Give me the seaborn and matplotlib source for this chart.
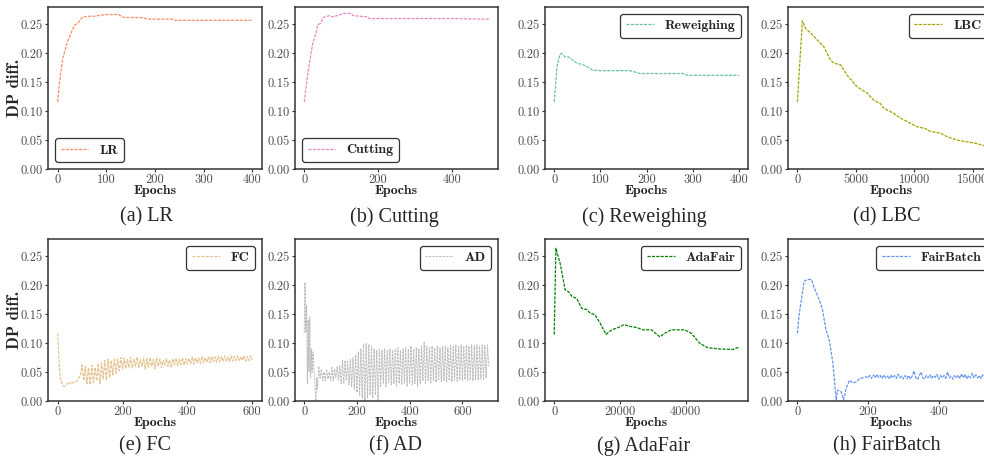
import numpy as np
import pandas as pd
import seaborn as sns
import matplotlib.pyplot as plt
from matplotlib.font_manager import FontProperties

sns.set_style("ticks")
plt.rcParams["font.family"] = ["cmr10", "DejaVu Serif"]
plt.rcParams["axes.unicode_minus"] = False

## data
lr_x = [0, 3, 6, 10, 15, 20, 25, 30, 35, 40, 45, 50, 60, 75, 90, 100, 125, 135, 175, 185, 235, 240, 300, 400]
lr_y = [0.116, 0.145, 0.165, 0.19, 0.205, 0.22, 0.23, 0.24, 0.249, 0.251, 0.256, 0.262, 0.264, 0.264,
        0.266, 0.267, 0.267, 0.262, 0.2615, 0.259, 0.259, 0.257, 0.257, 0.257]

cut_x = [0, 6, 14, 23, 32, 36, 45, 51, 68, 77, 95, 104, 126, 133, 172, 176, 400, 500]
cut_y = [0.116, 0.148, 0.183, 0.217, 0.235, 0.249, 0.252, 0.262, 0.265, 0.263, 0.266, 0.269, 0.269,
         0.265, 0.263, 0.260, 0.260, 0.259]

rw_x = [0, 6, 12, 16, 23, 30, 49, 63, 78, 83, 99, 106, 164, 186, 280, 288, 400]
rw_y = [0.116, 0.177, 0.197, 0.200, 0.194, 0.194, 0.183, 0.180, 0.174, 0.171, 0.170, 0.170, 0.170,
        0.165, 0.165, 0.162, 0.162]

lbc_x = [0, 430, 710, 1420, 2270, 2840, 3130, 3690, 4260, 5110, 5970, 6530, 7100, 7390, 8240, 8800,
         9660, 10230, 10940, 11360, 12220, 12780, 13640, 14490, 15340, 16000]
lbc_y = [0.116, 0.256, 0.243, 0.229, 0.211, 0.188, 0.183, 0.180, 0.162, 0.142, 0.131, 0.119, 0.113,
         0.105, 0.096, 0.088, 0.079, 0.073, 0.070, 0.065, 0.062, 0.056, 0.050, 0.047, 0.044, 0.040]

fc_x_start = [0, 3, 6, 10, 15, 20, 25, 30, 35, 40, 45, 50, 55, 60, 65]
fc_y_start = [0.117, 0.08, 0.05, 0.035, 0.028, 0.025, 0.027, 0.031, 0.029, 0.032, 0.030, 0.033, 0.035,
              0.034, 0.040]
fc_y_rest = [  # epochs 70..600, every 5
    0.045, 0.062, 0.035, 0.060, 0.030, 0.058, 0.028, 0.062, 0.032, 0.058, 0.035, 0.065, 0.030, 0.066,
    0.038, 0.070, 0.036, 0.072, 0.040, 0.070, 0.045, 0.074, 0.048, 0.072, 0.052, 0.075, 0.055,
    0.074, 0.056, 0.072, 0.058, 0.075, 0.057, 0.073, 0.060, 0.076, 0.058, 0.072, 0.060, 0.074, 0.055,
    0.073, 0.058, 0.075, 0.060, 0.072, 0.056,
    0.074, 0.060, 0.072, 0.058, 0.070, 0.062, 0.073, 0.060, 0.071, 0.058, 0.073, 0.062, 0.074, 0.061,
    0.072, 0.063, 0.075, 0.062, 0.073, 0.064,
    0.074, 0.065, 0.076, 0.064, 0.075, 0.066, 0.074, 0.065, 0.077, 0.066, 0.075, 0.067, 0.076, 0.066,
    0.077, 0.068, 0.076, 0.067, 0.078, 0.068,
    0.077, 0.068, 0.078, 0.069, 0.076, 0.068, 0.078, 0.069, 0.077, 0.070, 0.078, 0.069, 0.077, 0.070,
    0.078, 0.069, 0.077, 0.070, 0.078, 0.071,
]

ad_x_start = [0, 3, 6, 9, 12, 15, 18, 21, 24, 27, 30, 33, 36, 40, 44, 47]
ad_y_start = [0.117, 0.205, 0.12, 0.165, 0.03, 0.14, 0.05, 0.145, 0.04, 0.09, 0.05, 0.085, 0.06,
              0.03, 0.0, 0.04]
ad_y_rest = [  # epochs 50..700, every 5
    0.02, 0.06, 0.04, 0.055, 0.035, 0.05, 0.035, 0.055, 0.038, 0.05,
    0.035, 0.058, 0.035, 0.055, 0.04, 0.06, 0.035, 0.06, 0.03, 0.07,
    0.03, 0.07, 0.035, 0.068, 0.028, 0.072, 0.025, 0.075, 0.02, 0.08,
    0.015, 0.085, 0.01, 0.09, 0.005, 0.098, 0.0, 0.1, 0.005, 0.098,
    0.01, 0.095, 0.005, 0.09, 0.01, 0.088, 0.0, 0.09, 0.025, 0.088,
    0.03, 0.09, 0.025, 0.088, 0.03, 0.09, 0.028, 0.088, 0.03, 0.09,
    0.025, 0.092, 0.03, 0.088, 0.028, 0.09, 0.03, 0.092, 0.025, 0.09,
    0.03, 0.095, 0.028, 0.09, 0.03, 0.092, 0.025, 0.09, 0.03, 0.095,
    0.035, 0.102, 0.03, 0.095, 0.035, 0.092, 0.03, 0.095, 0.035, 0.092,
    0.032, 0.095, 0.035, 0.092, 0.033, 0.094, 0.035, 0.095, 0.032, 0.092,
    0.035, 0.096, 0.033, 0.094, 0.036, 0.097, 0.034, 0.095, 0.036, 0.097,
    0.035, 0.095, 0.037, 0.097, 0.035, 0.095, 0.036, 0.097, 0.035, 0.096,
    0.037, 0.097, 0.036, 0.095, 0.038, 0.097, 0.036, 0.096, 0.04, 0.097,
    0.06,
]

ada_x = [0, 500, 1800, 3330, 4340, 5350, 6870, 8380, 9900, 10900, 12400, 13940, 15760, 17470, 19500,
         21200, 23030, 25050, 27070, 29600, 32120, 33640, 35660, 39700, 41720, 44240, 46770, 50300,
         54340, 56160]
ada_y = [0.115, 0.264, 0.238, 0.192, 0.189, 0.181, 0.177, 0.160, 0.158, 0.152, 0.149, 0.135, 0.115,
         0.123, 0.127, 0.132, 0.129, 0.127, 0.123, 0.123, 0.111, 0.117, 0.123, 0.123, 0.117, 0.100,
         0.092, 0.090, 0.089, 0.093]

fb_x_start = [0, 5, 14, 19, 29, 40, 48, 62, 71, 81, 90, 100, 110, 114, 124, 131, 138, 148, 157, 167,
              176, 186, 195]
fb_y_start = [0.117, 0.149, 0.186, 0.207, 0.210, 0.210, 0.195, 0.175, 0.158, 0.123, 0.106, 0.068,
              0.002, 0.019, 0.016, 0.002, 0.022, 0.036, 0.031, 0.033, 0.039, 0.040, 0.042]
fb_y_rest = [  # epochs 200..530, every 5
    0.040, 0.044, 0.039, 0.045, 0.040, 0.046, 0.041, 0.044, 0.039, 0.045, 0.040, 0.043, 0.038, 0.045,
    0.040, 0.044, 0.039, 0.046, 0.040, 0.043, 0.038, 0.044, 0.039, 0.044, 0.038, 0.043, 0.052, 0.040,
    0.037, 0.044, 0.050, 0.040, 0.038, 0.044, 0.040, 0.045, 0.039, 0.044, 0.041, 0.046, 0.038, 0.044,
    0.040, 0.044, 0.039, 0.050, 0.040, 0.043, 0.038, 0.044, 0.040, 0.045, 0.039, 0.047, 0.040, 0.046,
    0.038, 0.044, 0.040, 0.048, 0.040, 0.045, 0.040, 0.044, 0.039, 0.045, 0.042,
]

fc_x = fc_x_start + list(range(70, 601, 5))
fc_y = fc_y_start + fc_y_rest
ad_x = ad_x_start + list(range(50, 701, 5))
ad_y = ad_y_start + ad_y_rest
fb_x = fb_x_start + list(range(200, 531, 5))
fb_y = fb_y_start + fb_y_rest

y_ticks = [0.0, 0.05, 0.10, 0.15, 0.20, 0.25]
y_tick_labels = ["0.00", "0.05", "0.10", "0.15", "0.20", "0.25"]

panels = [
    ("LR", lr_x, lr_y, "#fc8d62", "lower left", [0, 100, 200, 300, 400], "(a) LR"),
    ("Cutting", cut_x, cut_y, "#e78ac3", "lower left", [0, 200, 400], "(b) Cutting"),
    ("Reweighing", rw_x, rw_y, "#66c2a5", "upper right", [0, 100, 200, 300, 400], "(c) Reweighing"),
    ("LBC", lbc_x, lbc_y, "#a3a300", "upper right", [0, 5000, 10000, 15000], "(d) LBC"),
    ("FC", fc_x, fc_y, "#e5c494", "upper right", [0, 200, 400, 600], "(e) FC"),
    ("AD", ad_x, ad_y, "#bdbdbd", "upper right", [0, 200, 400, 600], "(f) AD"),
    ("AdaFair", ada_x, ada_y, "green", "upper right", [0, 20000, 40000], "(g) AdaFair"),
    ("FairBatch", fb_x, fb_y, "cornflowerblue", "upper right", [0, 200, 400], "(h) FairBatch"),
]

## layout in pixels (984 x 457)
W, H = 984, 457
cols = [(48, 262), (295, 498), (545, 748), (788, 994)]
rows = [(7, 169), (239, 401)]
cap_x = [[146, 394, 644, 887], [145, 395, 644, 887]]
cap_y = [217, 446]

bold = FontProperties(family="cmb10", size=10)

fig = plt.figure(figsize=(W / 100, H / 100), dpi=100)

for i, (name, x, y, color, loc, xt, caption) in enumerate(panels):
    r, c = divmod(i, 4)
    x0, x1 = cols[c]
    y0, y1 = rows[r]
    ax = fig.add_axes([x0 / W, 1 - y1 / H, (x1 - x0) / W, (y1 - y0) / H])
    df = pd.DataFrame({"epoch": x, "dp": y})
    lw = 0.7 if name == "AD" else 0.9
    sns.lineplot(data=df, x="epoch", y="dp", ax=ax, color=color, lw=lw,
                 linestyle=(0, (2.5, 1)), label=name, estimator=None, sort=False)
    ax.set_ylim(0, 0.28)
    ax.set_yticks(y_ticks, labels=y_tick_labels)
    ax.set_xticks(xt, labels=[str(v) for v in xt])
    ax.tick_params(length=2.5, width=0.8, pad=1, labelsize=9, colors="0.2", labelcolor="0.3")
    for sp in ax.spines.values():
        sp.set_color("0.2")
        sp.set_linewidth(1.1)
    ax.set_xlabel("Epochs", fontproperties=FontProperties(family="cmb10", size=10))
    ax.xaxis.set_label_coords(0.5, -0.10)
    if c == 0:
        ax.set_ylabel("DP diff.", fontproperties=FontProperties(family="cmb10", size=12))
        ax.yaxis.set_label_coords(-0.12, 0.5)
    else:
        ax.set_ylabel("")
    leg = ax.legend(loc=loc, prop=bold, fancybox=True, framealpha=1, edgecolor="0.2")
    leg.get_frame().set_linewidth(0.9)
    fig.text(cap_x[r][c] / W, 1 - cap_y[r] / H, caption, ha="center", va="center",
             family="Liberation Serif", size=14.5)

plt.savefig("out.png", dpi=100)
